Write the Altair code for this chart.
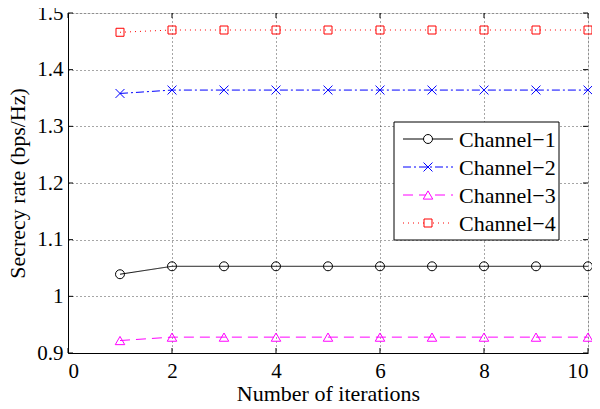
import altair as alt
import pandas as pd

iterations = [1, 2, 3, 4, 5, 6, 7, 8, 9, 10]
channel_1 = [1.039, 1.053, 1.053, 1.053, 1.053, 1.053, 1.053, 1.053, 1.053, 1.053]
channel_2 = [1.358, 1.364, 1.364, 1.364, 1.364, 1.364, 1.364, 1.364, 1.364, 1.364]
channel_3 = [0.922, 0.928, 0.928, 0.928, 0.928, 0.928, 0.928, 0.928, 0.928, 0.928]
channel_4 = [1.466, 1.470, 1.470, 1.470, 1.470, 1.470, 1.470, 1.470, 1.470, 1.470]

names = ["Channel\u22121", "Channel\u22122", "Channel\u22123", "Channel\u22124"]
x_ticks = [0, 2, 4, 6, 8, 10]
y_ticks = [0.9, 1.0, 1.1, 1.2, 1.3, 1.4, 1.5]

W, H = 520, 340
FONT = "Times New Roman, Liberation Serif, Tinos, DejaVu Serif, serif"
X_CROSS = "M-1,-1L1,1M-1,1L1,-1"

styles = [
    dict(color="#000000", dash=[1, 0], shape="circle", size=80),
    dict(color="#0000ff", dash=[8, 3, 2, 3], shape=X_CROSS, size=80),
    dict(color="#ff00ff", dash=[10, 6], shape="triangle-up", size=90),
    dict(color="#ff0000", dash=[1, 4], shape="square", size=64),
]
series = [channel_1, channel_2, channel_3, channel_4]

xscale = alt.Scale(domain=[0, 10], nice=False, zero=False)
yscale = alt.Scale(domain=[0.9, 1.5], nice=False, zero=False)

xaxis = alt.Axis(values=x_ticks, grid=True, gridDash=[1, 3], gridColor="#000000",
                 gridOpacity=0.7, tickSize=0, labelPadding=7, labelFontSize=21,
                 labelFont=FONT, labelColor="#000", title="Number of iterations",
                 titleFont=FONT, titleFontSize=22, titleFontWeight="normal",
                 titleColor="#000", titlePadding=2, domainColor="#000")
yaxis = alt.Axis(values=y_ticks, grid=True, gridDash=[1, 3], gridColor="#000000",
                 gridOpacity=0.7, tickSize=0, labelPadding=5, labelFontSize=21,
                 labelFont=FONT, labelColor="#000", format="~g",
                 title="Secrecy rate (bps/Hz)", titleFont=FONT, titleFontSize=22,
                 titleFontWeight="normal", titleColor="#000", titlePadding=7,
                 domainColor="#000")

layers = []
base_df = pd.DataFrame({"x": [0, 10], "y": [0.9, 1.5]})
layers.append(alt.Chart(base_df).mark_point(opacity=0).encode(
    x=alt.X("x:Q", scale=xscale, axis=xaxis),
    y=alt.Y("y:Q", scale=yscale, axis=yaxis)))

# inward ticks
xt = pd.DataFrame({"t": x_ticks})
yt = pd.DataFrame({"t": y_ticks})
for y0, y1 in [(H, H - 5), (0, 5)]:
    layers.append(alt.Chart(xt).mark_rule(color="#000", strokeWidth=1).encode(
        x=alt.X("t:Q", scale=xscale), y=alt.value(y0), y2=alt.value(y1)))
for x0, x1 in [(0, 5), (W, W - 5)]:
    layers.append(alt.Chart(yt).mark_rule(color="#000", strokeWidth=1).encode(
        y=alt.Y("t:Q", scale=yscale), x=alt.value(x0), x2=alt.value(x1)))

for name, vals, st in zip(names, series, styles):
    df = pd.DataFrame({"x": iterations, "y": vals})
    layers.append(alt.Chart(df).mark_line(color=st["color"], strokeWidth=1,
                                          strokeDash=st["dash"]).encode(
        x=alt.X("x:Q", scale=xscale), y=alt.Y("y:Q", scale=yscale)))
    layers.append(alt.Chart(df).mark_point(shape=st["shape"], size=st["size"],
                                           color=st["color"], filled=False,
                                           strokeWidth=1, opacity=1).encode(
        x=alt.X("x:Q", scale=xscale), y=alt.Y("y:Q", scale=yscale)))

# legend
one = pd.DataFrame({"a": [0]})
layers.append(alt.Chart(one).mark_rect(fill="white", stroke="#000", strokeWidth=1).encode(
    x=alt.value(326), x2=alt.value(491), y=alt.value(109), y2=alt.value(227)))
for i, (name, st) in enumerate(zip(names, styles)):
    yy = 126 + 28 * i
    layers.append(alt.Chart(one).mark_rule(color=st["color"], strokeWidth=1,
                                           strokeDash=st["dash"]).encode(
        x=alt.value(335), x2=alt.value(385), y=alt.value(yy)))
    layers.append(alt.Chart(one).mark_point(shape=st["shape"], size=st["size"],
                                            color=st["color"], filled=False,
                                            fill="white", strokeWidth=1, opacity=1).encode(
        x=alt.value(360), y=alt.value(yy)))
    layers.append(alt.Chart(one).mark_text(text=name, align="left", baseline="middle",
                                           font=FONT, fontSize=22, color="#000").encode(
        x=alt.value(391), y=alt.value(yy + 1)))

chart = alt.layer(*layers).properties(
    width=W, height=H,
    autosize=alt.AutoSizeParams(type="none"),
    padding={"left": 60, "top": 5, "right": 4, "bottom": 56},
).configure_view(stroke="#000", strokeWidth=1).configure(background="white")

chart.save("out.html", embed_options={"renderer": "svg", "actions": False})
